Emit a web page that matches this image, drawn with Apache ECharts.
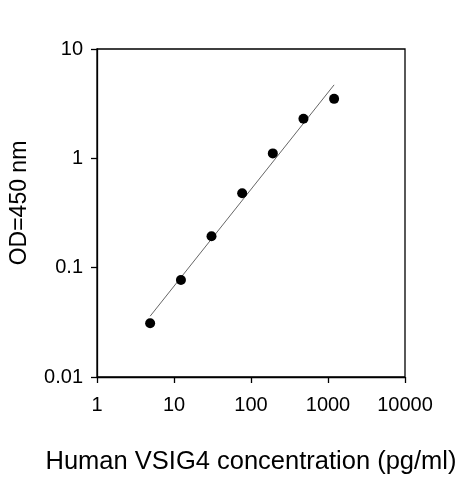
<!DOCTYPE html>
<html>
<head>
<meta charset="utf-8">
<script src="https://cdn.jsdelivr.net/npm/echarts@6/dist/echarts.min.js"></script>
<style>
  html, body { margin: 0; padding: 0; background: #fff; }
  #chart { width: 463px; height: 480px; }
</style>
</head>
<body>
<div id="chart"></div>
<script>
// concentration (pg/ml) and OD readings of the standard curve
const conc = [4.9, 12.3, 30.7, 76.8, 192, 480, 1200];
const od = [0.031, 0.077, 0.194, 0.48, 1.11, 2.3, 3.5];

// end points of the fitted line
const fitX = [4.9, 1200];
const fitY = [0.036, 4.7];

// axis tick labels (one per decade)
const xTicks = ['1', '10', '100', '1000', '10000'];
const yTicks = ['0.01', '0.1', '1', '10'];

const font = '"Liberation Sans", Arial, sans-serif';

const chart = echarts.init(document.getElementById('chart'));

const points = conc.map((c, i) => [c, od[i]]);
const fit = fitX.map((x, i) => [x, fitY[i]]);

chart.setOption({
  animation: false,
  backgroundColor: '#fff',
  grid: {
    left: 97, right: 58, top: 49, bottom: 103,
    show: true, borderColor: '#000', borderWidth: 1.3
  },
  xAxis: {
    type: 'log', logBase: 10, min: 1, max: 10000,
    name: 'Human VSIG4 concentration (pg/ml)',
    nameLocation: 'middle', nameGap: 72,
    nameTextStyle: { fontFamily: font, fontSize: 25.5, color: '#000' },
    axisLine: { lineStyle: { color: '#000', width: 1.3 } },
    axisTick: { show: true, length: 6, inside: false, lineStyle: { color: '#000', width: 1.3 } },
    axisLabel: {
      margin: 18, fontFamily: font, fontSize: 20, color: '#000',
      formatter: v => xTicks[Math.round(Math.log10(v))]
    },
    splitLine: { show: false },
    minorTick: { show: false }
  },
  yAxis: {
    type: 'log', logBase: 10, min: 0.01, max: 10,
    name: 'OD=450 nm',
    nameLocation: 'middle', nameGap: 66, nameRotate: 90,
    nameTextStyle: { fontFamily: font, fontSize: 23, color: '#000', padding: [0, 0, 0, 20] },
    axisLine: { lineStyle: { color: '#000', width: 1.3 } },
    axisTick: { show: true, length: 6, inside: false, lineStyle: { color: '#000', width: 1.3 } },
    axisLabel: {
      margin: 14, fontFamily: font, fontSize: 20, color: '#000',
      formatter: v => yTicks[Math.round(Math.log10(v)) + 2]
    },
    splitLine: { show: false },
    minorTick: { show: false }
  },
  series: [
    {
      type: 'line',
      data: fit,
      symbol: 'none',
      lineStyle: { color: '#666', width: 1 },
      z: 1
    },
    {
      type: 'scatter',
      data: points,
      symbol: 'circle',
      symbolSize: 10,
      itemStyle: { color: '#000', opacity: 1 },
      z: 2
    }
  ]
});
</script>
</body>
</html>
